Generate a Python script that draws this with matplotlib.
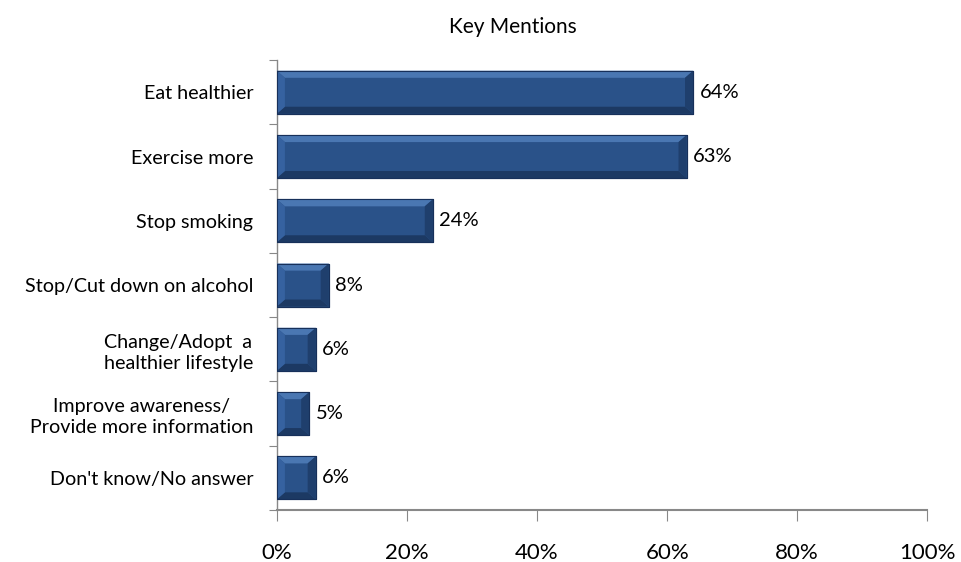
import matplotlib
matplotlib.use("Agg")
import matplotlib.pyplot as plt
from matplotlib.ticker import PercentFormatter

categories = [
    "Eat healthier",
    "Exercise more",
    "Stop smoking",
    "Stop/Cut down on alcohol",
    "Change/Adopt  a\nhealthier lifestyle",
    "Improve awareness/\nProvide more information",
    "Don't know/No answer",
]
values = [64, 63, 24, 8, 6, 5, 6]
value_labels = ["64%", "63%", "24%", "8%", "6%", "5%", "6%"]
xticks = [0, 20, 40, 60, 80, 100]
title = "Key Mentions"

plt.rcParams['font.family'] = ['Lato', 'DejaVu Sans']

fig = plt.figure(figsize=(9.61, 5.62), dpi=100)
ax = fig.add_axes([0.288, 0.0925, 0.677, 0.8005])

n = len(categories)
ypos = list(range(n))
bar_h = 0.67

ax.barh(ypos, values, height=bar_h, color="#2A5289", edgecolor="#1A355E",
        linewidth=0.8, zorder=2)

# bevel facets (in data units, derived from bar values)
bx = 1.25   # horizontal bevel in x units
by = 0.11   # vertical bevel in y units
for y, v in zip(ypos, values):
    top = y - bar_h / 2
    bot = y + bar_h / 2
    bxx = min(bx, v / 3)
    ax.fill([0, v, v - bxx, bxx], [top, top, top + by, top + by],
            color="#4A77B2", lw=0, zorder=3)
    ax.fill([0, v, v - bxx, bxx], [bot, bot, bot - by, bot - by],
            color="#1C3963", lw=0, zorder=3)
    ax.fill([0, bxx, bxx, 0], [top, top + by, bot - by, bot],
            color="#3662A0", lw=0, zorder=3)
    ax.fill([v, v - bxx, v - bxx, v], [top, top + by, bot - by, bot],
            color="#1F3F6D", lw=0, zorder=3)
    ax.plot([0, v, v, 0, 0], [top, top, bot, bot, top], color="#17305A",
            lw=0.8, zorder=4)

for y, v, lab in zip(ypos, values, value_labels):
    ax.text(v + 1.0, y, lab, va="center", ha="left", fontsize=14.5,
            color="black", zorder=5)

ax.set_xlim(0, 100)
ax.set_ylim(n - 0.5, -0.5)
ax.set_xticks(xticks)
ax.xaxis.set_major_formatter(PercentFormatter(decimals=0))
ax.set_yticks([i - 0.5 for i in range(n + 1)], minor=False)
ax.set_yticklabels([])
ax.set_yticks(ypos, minor=True)
ax.set_yticklabels(categories, minor=True, fontsize=14.2, ha="right",
                   multialignment="center", linespacing=1.3)
ax.tick_params(axis="y", which="minor", length=0, pad=17)
ax.tick_params(axis="y", which="major", length=6, color="#888888", direction="out")
ax.tick_params(axis="x", length=8, color="#888888", direction="out",
               labelsize=16, pad=16)

for s in ["top", "right"]:
    ax.spines[s].set_visible(False)
ax.spines["left"].set_color("#888888")
ax.spines["bottom"].set_color("#888888")
ax.spines["left"].set_linewidth(1.0)
ax.spines["bottom"].set_linewidth(1.5)

fig.text(0.534, 0.952, title, ha="center", va="center", fontsize=15)

fig.savefig("out.png", dpi=100)
